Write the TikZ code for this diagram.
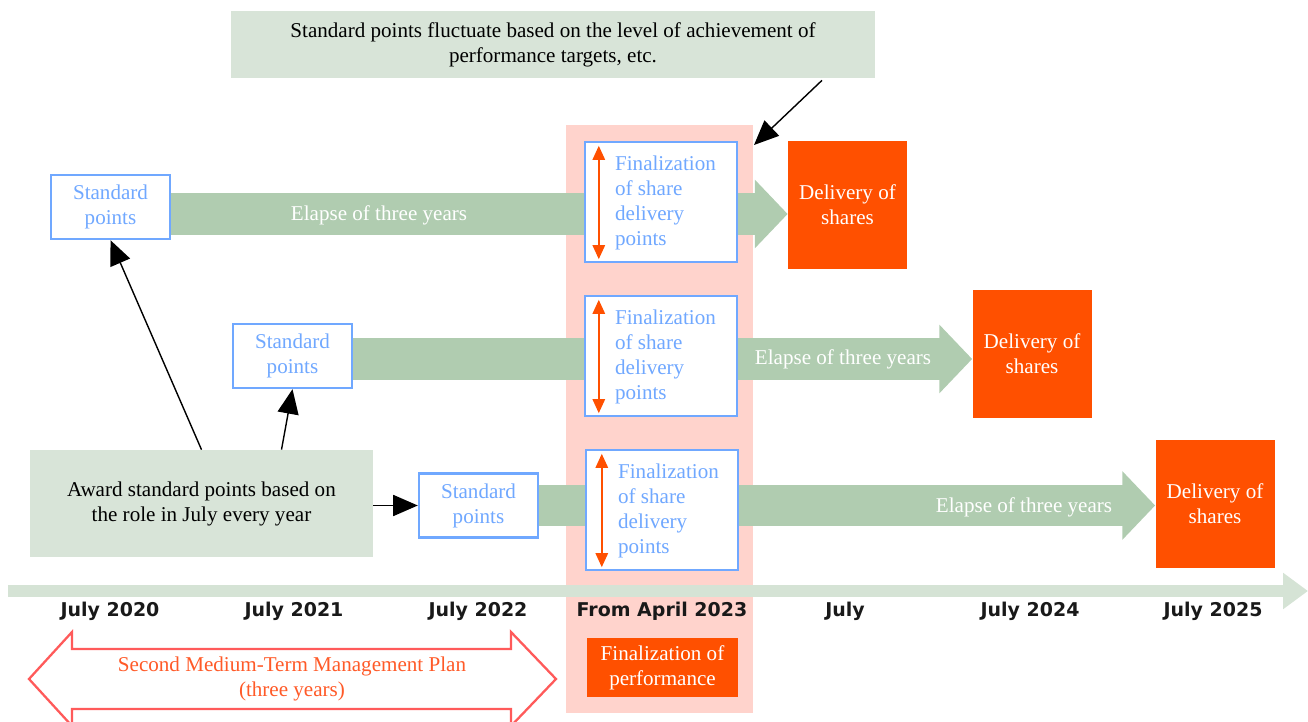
\documentclass[tikz,border=0pt]{standalone}
\usepackage{fontspec}
\setmainfont{Liberation Serif}
\newfontfamily\lblfont{DejaVu Sans}
\usetikzlibrary{arrows.meta,calc}
\definecolor{pinkC}{HTML}{FFD3CC}
\definecolor{noteC}{HTML}{D8E4D8}
\definecolor{bandC}{HTML}{B0CCB0}
\definecolor{lineC}{HTML}{D5E3D5}
\definecolor{blueC}{HTML}{70A8FF}
\definecolor{orangeC}{HTML}{FF5000}
\definecolor{redC}{HTML}{FF5A5A}
\definecolor{redT}{HTML}{FF5A28}
\tikzset{
  txt/.style={font=\fontsize{12}{14.2}\selectfont, align=center, inner sep=0pt},
  stdbox/.style={txt, draw=blueC, line width=1.4pt, fill=white, text=blueC, minimum width=2.38cm, minimum height=1.28cm},
  finbox/.style={draw=blueC, line width=1.4pt, fill=white, minimum width=3.04cm, minimum height=2.4cm},
  fintext/.style={txt, text=blueC, align=left, anchor=west},
  delbox/.style={txt, fill=orangeC, text=white, minimum width=2.38cm, minimum height=2.56cm},
  notebox/.style={txt, fill=noteC, text=black},
  elapse/.style={txt, text=white},
  band/.style={bandC, line width=23.8pt, -{Triangle[length=18.7pt,width=38pt]}},
  conn/.style={black, line width=0.8pt, -{Triangle[length=14pt,width=12pt]}},
  finarrow/.style={orangeC, line width=1.1pt, {Triangle[length=8pt,width=7pt]}-{Triangle[length=8pt,width=7pt]}},
  lbl/.style={font=\lblfont\bfseries\fontsize{10.8}{13}\selectfont, text=black!90, inner sep=0pt}
}
\begin{document}
\begin{tikzpicture}[x=0.02cm,y=-0.02cm]
\useasboundingbox (0,0) rectangle (1308,722);
% pink column
\node[fill=pinkC, minimum width=3.74cm, minimum height=11.76cm, inner sep=0] (col) at (659.5,419) {};
% timeline
\coordinate (tl0) at (8,591);
\coordinate (tl1) at (1308,591);
\draw[lineC, line width=6.8pt, -{Triangle[length=14.2pt,width=19.8pt]}] (tl0) -- (tl1);
% top note
\node[notebox, minimum width=12.88cm, minimum height=1.34cm] (note) at (553,44.5)
  {Standard points fluctuate based on the level of achievement of\\performance targets, etc.};
% nodes
\node[stdbox] (std1) at (110.5,207) {Standard\\points};
\node[stdbox] (std2) at (292.5,356) {Standard\\points};
\node[stdbox] (std3) at (478.5,505.5) {Standard\\points};
\node[delbox] (del1) at (847.5,205) {Delivery of\\shares};
\node[delbox] (del2) at (1032,354) {Delivery of\\shares};
\node[delbox] (del3) at (1215,504) {Delivery of\\shares};
% bands
\draw[band] ($(std1.east)+(0,7)$) -- ($(del1.west)+(0,9)$);
\draw[band] ($(std2.east)+(0,3)$) -- ($(del2.west)+(0,5)$);
\draw[band] (std3.east) -- ($(del3.west)+(0,1.5)$);
\node[elapse] (el1) at (379,215) {Elapse of three years};
\node[elapse] (el2) at (843,359) {Elapse of three years};
\node[elapse] (el3) at (1024,507) {Elapse of three years};
% redraw std boxes on top of bands
\node[stdbox] at (std1) {\raisebox{-2pt}{\parbox{2cm}{\centering Standard\\points}}};
\node[stdbox] at (std2) {\raisebox{-2pt}{\parbox{2cm}{\centering Standard\\points}}};
\node[stdbox] at (std3) {\raisebox{-2pt}{\parbox{2cm}{\centering Standard\\points}}};
% finalization boxes
\node[finbox] (fin1) at (661,202) {};
\node[finbox] (fin2) at (661,356) {};
\node[finbox] (fin3) at (662,510) {};
\node[fintext] (ft1) at ($(fin1.west)+(31,1)$) {Finalization\\of share\\delivery\\points};
\node[fintext] (ft2) at ($(fin2.west)+(31,1)$) {Finalization\\of share\\delivery\\points};
\node[fintext] (ft3) at ($(fin3.west)+(33,1)$) {Finalization\\of share\\delivery\\points};
\draw[finarrow] ($(fin1.north west)+(15,5)$) -- ($(fin1.south west)+(15,-4)$);
\draw[finarrow] ($(fin2.north west)+(15,5)$) -- ($(fin2.south west)+(15,-4)$);
\draw[finarrow] ($(fin3.north west)+(17,5)$) -- ($(fin3.south west)+(17,-4)$);
% award box
\node[notebox, minimum width=6.86cm, minimum height=2.14cm] (award) at (201.5,503.5)
  {Award standard points based on\\the role in July every year};
% connectors
\draw[conn] (award.north) -- (std1.south);
\draw[conn] ($(award.north)+(80,0)$) -- (std2.south);
\draw[conn] (award.east |- std3.west) -- (std3.west);
\coordinate (noteend) at (754,145);
\draw[conn] ($(note.south)+(269,2)$) -- (noteend);
% labels
\node[lbl] (l1) at (110,611) {July 2020};
\node[lbl] (l2) at (294,611) {July 2021};
\node[lbl] (l3) at (478,611) {July 2022};
\node[lbl] (l4) at (662,611) {From April 2023};
\node[lbl] (l5) at (845,611) {July};
\node[lbl] (l6) at (1030,611) {July 2024};
\node[lbl] (l7) at (1213,611) {July 2025};
% plan double arrow
\draw[redC, line width=1.3pt, fill=white, line join=miter]
  (29,679) -- (72,632) -- (72,649) -- (511,649) -- (511,632) -- (556,679)
  -- (511,726) -- (511,709) -- (72,709) -- (72,726) -- cycle;
\node[txt, text=redT] (plan) at (292,679) {Second Medium-Term Management Plan\\(three years)};
% finalization of performance
\node[txt, fill=orangeC, text=white, minimum width=3.02cm, minimum height=1.18cm] (perf) at (662.5,667.5)
  {Finalization of\\performance};
\end{tikzpicture}
\end{document}
